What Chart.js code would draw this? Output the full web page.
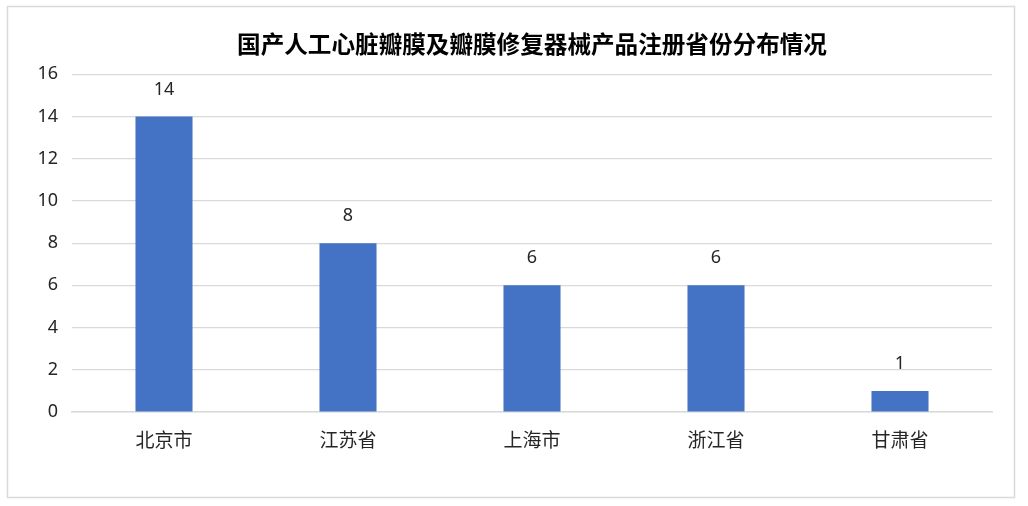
<!DOCTYPE html>
<html>
<head>
<meta charset="utf-8">
<script src="https://cdn.jsdelivr.net/npm/chart.js@4/dist/chart.umd.min.js"></script>
<style>
  html, body { margin: 0; padding: 0; background: #fff; }
  #wrap { position: absolute; left: 0; top: 0; width: 1028px; height: 506px; }
</style>
</head>
<body>
<div id="wrap"><canvas id="c" width="1028" height="506"></canvas></div>
<script>
const titleText = '国产人工心脏瓣膜及瓣膜修复器械产品注册省份分布情况';
const categories = ['北京市', '江苏省', '上海市', '浙江省', '甘肃省'];
const values = [14, 8, 6, 6, 1];
const yTicks = [0, 2, 4, 6, 8, 10, 12, 14, 16];

const numFont = "'Noto Sans', 'DejaVu Sans', sans-serif";
const cjkFont = "'Noto Sans CJK SC', 'Noto Sans', sans-serif";

const borderPlugin = {
  id: 'outerBorder',
  beforeDraw(chart) {
    const ctx = chart.ctx;
    ctx.save();
    ctx.fillStyle = '#fff';
    ctx.fillRect(0, 0, chart.width, chart.height);
    ctx.strokeStyle = '#d9d9d9';
    ctx.lineWidth = 1.5;
    ctx.strokeRect(7.5, 6.5, 1007, 491);
    ctx.restore();
  }
};

const labelPlugin = {
  id: 'barLabels',
  afterDatasetsDraw(chart) {
    const ctx = chart.ctx;
    const meta = chart.getDatasetMeta(0);
    ctx.save();
    ctx.font = '18px ' + numFont;
    ctx.fillStyle = '#262626';
    ctx.textAlign = 'center';
    ctx.textBaseline = 'middle';
    meta.data.forEach((bar, i) => {
      ctx.fillText(String(values[i]), bar.x, bar.y - 27);
    });
    ctx.restore();
  }
};

new Chart(document.getElementById('c'), {
  type: 'bar',
  data: {
    labels: categories,
    datasets: [{
      data: values,
      backgroundColor: '#4472C4',
      borderWidth: 0,
      categoryPercentage: 1.0,
      barPercentage: 0.31
    }]
  },
  options: {
    responsive: false,
    devicePixelRatio: 1,
    animation: false,
    layout: { padding: { left: 0, right: 36, top: 0, bottom: 0 } },
    plugins: {
      legend: { display: false },
      tooltip: { enabled: false },
      title: {
        display: true,
        text: titleText,
        fullSize: false,
        color: '#000',
        font: { family: cjkFont, size: 23.6, weight: 'bold', lineHeight: 1.2 },
        padding: { top: 30, bottom: 16 }
      }
    },
    scales: {
      x: {
        grid: { display: false, drawTicks: false },
        border: { display: true, color: '#d9d9d9', width: 1.5 },
        ticks: {
          color: '#262626',
          font: { family: cjkFont, size: 19 },
          padding: 16,
          maxRotation: 0
        },
        afterFit(scale) { scale.height = 94; }
      },
      y: {
        min: 0,
        max: 16,
        afterBuildTicks(scale) { scale.ticks = yTicks.map(v => ({ value: v })); },
        grid: { color: '#d9d9d9', lineWidth: 1.2, drawTicks: false },
        border: { display: false },
        ticks: {
          color: '#262626',
          font: { family: numFont, size: 18 },
          padding: 14
        },
        afterFit(scale) { scale.width = 72; }
      }
    }
  },
  plugins: [borderPlugin, labelPlugin]
});
</script>
</body>
</html>
